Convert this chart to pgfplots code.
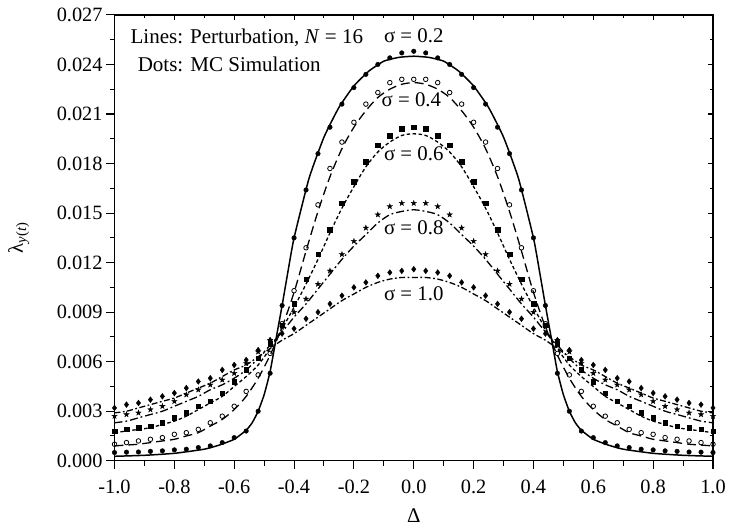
\documentclass[border=0pt]{standalone}
\usepackage{fontspec}
\setmainfont{Liberation Serif}
\usepackage{pgfplots}
\pgfplotsset{compat=1.18}
\usepackage{pgfplotstable}

\pgfdeclareplotmark{fstar}{%
  \pgfpathmoveto{\pgfpointpolar{90}{\pgfplotmarksize}}%
  \pgfpathlineto{\pgfpointpolar{234}{\pgfplotmarksize}}%
  \pgfpathlineto{\pgfpointpolar{18}{\pgfplotmarksize}}%
  \pgfpathlineto{\pgfpointpolar{162}{\pgfplotmarksize}}%
  \pgfpathlineto{\pgfpointpolar{306}{\pgfplotmarksize}}%
  \pgfpathclose
  \pgfusepathqfillstroke
}

\pgfplotstableread{
x      d2      d4     l4      d6     l6     d8     l8     d10    l10
-1.00  0.0005  0.0010 0.0009  0.0018 0.0017 0.0027 0.0023 0.0032 0.0029
-0.96  0.00052 0.0011 0.00095 0.0019 0.0018 0.0028 0.0024 0.0034 0.0030
-0.92  0.00053 0.0012 0.0010  0.0020 0.0019 0.0029 0.0026 0.0035 0.0032
-0.88  0.00057 0.0013 0.0011  0.0021 0.0020 0.0031 0.0028 0.0037 0.0034
-0.84  0.0006  0.0014 0.0012  0.0023 0.0022 0.0033 0.0030 0.0039 0.0036
-0.80  0.00066 0.0016 0.0013  0.0026 0.0024 0.0036 0.0033 0.0041 0.0038
-0.76  0.0007  0.0017 0.0015  0.0029 0.0027 0.0040 0.0036 0.0044 0.0041
-0.72  0.0008  0.0019 0.0017  0.0033 0.0031 0.0043 0.0039 0.0048 0.0044
-0.68  0.0009  0.0023 0.0021  0.0036 0.0035 0.0046 0.0043 0.0050 0.0047
-0.64  0.0011  0.0027 0.0025  0.0041 0.0039 0.0049 0.0046 0.0055 0.0051
-0.60  0.0014  0.0033 0.0031  0.0048 0.0045 0.0053 0.0050 0.0058 0.0055
-0.56  0.0018  0.0042 0.0039  0.0055 0.0051 0.0059 0.0055 0.0061 0.0058
-0.52  0.0030  0.0052 0.0050  0.0062 0.0058 0.0066 0.0062 0.0067 0.0063
-0.48  0.0053  0.0065 0.0064  0.0071 0.0068 0.0073 0.0070 0.0073 0.0068
-0.44  0.0094  0.0083 0.0081  0.0082 0.0080 0.0081 0.0078 0.0077 0.0073
-0.40  0.0135  0.0103 0.0102  0.0095 0.0093 0.0090 0.0087 0.0080 0.0077
-0.36  0.0164  0.0129 0.0127  0.0110 0.0107 0.0098 0.0095 0.0086 0.0082
-0.32  0.0186  0.0155 0.0151  0.0125 0.0122 0.0107 0.0104 0.0090 0.0087
-0.28  0.0202  0.0177 0.0172  0.0140 0.0138 0.0115 0.0113 0.0095 0.0092
-0.24  0.0216  0.0193 0.0189  0.0156 0.0153 0.0125 0.0122 0.0100 0.0097
-0.20  0.0226  0.0205 0.0202  0.0169 0.0166 0.0133 0.0130 0.0105 0.0101
-0.16  0.0234  0.0216 0.0212  0.0181 0.0178 0.0141 0.0137 0.0108 0.0105
-0.12  0.0240  0.0223 0.0220  0.0191 0.0187 0.0149 0.0144 0.0112 0.0108
-0.08  0.0244  0.0229 0.0225  0.0197 0.0193 0.0154 0.0149 0.0114 0.0110
-0.04  0.0247  0.0231 0.0228  0.0201 0.0197 0.0156 0.0151 0.0115 0.0111
 0.00  0.0248  0.0231 0.0229  0.0202 0.0198 0.0156 0.0152 0.0116 0.0111
 0.04  0.0247  0.0231 0.0228  0.0201 0.0197 0.0156 0.0151 0.0115 0.0111
 0.08  0.0244  0.0229 0.0225  0.0197 0.0193 0.0154 0.0149 0.0114 0.0110
 0.12  0.0240  0.0223 0.0220  0.0191 0.0187 0.0149 0.0144 0.0112 0.0108
 0.16  0.0234  0.0216 0.0212  0.0181 0.0178 0.0141 0.0137 0.0108 0.0105
 0.20  0.0226  0.0205 0.0202  0.0169 0.0166 0.0133 0.0130 0.0105 0.0101
 0.24  0.0216  0.0193 0.0189  0.0156 0.0153 0.0125 0.0122 0.0100 0.0097
 0.28  0.0202  0.0177 0.0172  0.0140 0.0138 0.0115 0.0113 0.0095 0.0092
 0.32  0.0186  0.0155 0.0151  0.0125 0.0122 0.0107 0.0104 0.0090 0.0087
 0.36  0.0164  0.0129 0.0127  0.0110 0.0107 0.0098 0.0095 0.0086 0.0082
 0.40  0.0135  0.0103 0.0102  0.0095 0.0093 0.0090 0.0087 0.0080 0.0077
 0.44  0.0094  0.0083 0.0081  0.0082 0.0080 0.0081 0.0078 0.0077 0.0073
 0.48  0.0053  0.0065 0.0064  0.0071 0.0068 0.0073 0.0070 0.0073 0.0068
 0.52  0.0030  0.0052 0.0050  0.0062 0.0058 0.0066 0.0062 0.0067 0.0063
 0.56  0.0018  0.0042 0.0039  0.0055 0.0051 0.0059 0.0055 0.0061 0.0058
 0.60  0.0014  0.0033 0.0031  0.0048 0.0045 0.0053 0.0050 0.0058 0.0055
 0.64  0.0011  0.0027 0.0025  0.0041 0.0039 0.0049 0.0046 0.0055 0.0051
 0.68  0.0009  0.0023 0.0021  0.0036 0.0035 0.0046 0.0043 0.0050 0.0047
 0.72  0.0008  0.0019 0.0017  0.0033 0.0031 0.0043 0.0039 0.0048 0.0044
 0.76  0.0007  0.0017 0.0015  0.0029 0.0027 0.0040 0.0036 0.0044 0.0041
 0.80  0.00066 0.0016 0.0013  0.0026 0.0024 0.0036 0.0033 0.0041 0.0038
 0.84  0.0006  0.0014 0.0012  0.0023 0.0022 0.0033 0.0030 0.0039 0.0036
 0.88  0.00057 0.0013 0.0011  0.0021 0.0020 0.0031 0.0028 0.0037 0.0034
 0.92  0.00053 0.0012 0.0010  0.0020 0.0019 0.0029 0.0026 0.0035 0.0032
 0.96  0.00052 0.0011 0.00095 0.0019 0.0018 0.0028 0.0024 0.0034 0.0030
 1.00  0.0005  0.0010 0.0009  0.0018 0.0017 0.0027 0.0023 0.0032 0.0029
}\datatab

\pgfplotstableread{
x      l2
-1.00  0.00027
-0.90  0.00033
-0.80  0.00045
-0.70  0.0007
-0.65  0.00095
-0.60  0.0013
-0.56  0.00185
-0.54  0.0023
-0.52  0.0030
-0.50  0.0040
-0.48  0.0054
-0.46  0.0074
-0.44  0.0094
-0.42  0.0115
-0.40  0.0135
-0.35  0.0171
-0.30  0.0196
-0.25  0.0214
-0.20  0.0227
-0.15  0.0236
-0.10  0.0242
-0.05  0.02443
 0.00  0.0245
 0.05  0.02443
 0.10  0.0242
 0.15  0.0236
 0.20  0.0227
 0.25  0.0214
 0.30  0.0196
 0.35  0.0171
 0.40  0.0135
 0.42  0.0115
 0.44  0.0094
 0.46  0.0074
 0.48  0.0054
 0.50  0.0040
 0.52  0.0030
 0.54  0.0023
 0.56  0.00185
 0.60  0.0013
 0.65  0.00095
 0.70  0.0007
 0.80  0.00045
 0.90  0.00033
 1.00  0.00027
}\lineA

\begin{document}
\begin{tikzpicture}
\pgfplotsset{
  base/.style={
    scale only axis, width=601bp, height=447.7bp,
    xmin=-1, xmax=1, ymin=0, ymax=0.027,
    xtick={-1,-0.8,-0.6,-0.4,-0.2,0,0.2,0.4,0.6,0.8,1},
    ytick={0,0.003,0.006,0.009,0.012,0.015,0.018,0.021,0.024,0.027},
    minor x tick num=1, minor y tick num=1,
    major tick length=8.5bp, minor tick length=5bp,
    every tick/.style={black, line width=1.1bp},
    every minor tick/.style={black, line width=1bp},
    axis line style={line width=1.2bp},
    scaled y ticks=false,
  }
}
\begin{axis}[base,
    tick align=inside, xtick pos=right, ytick pos=right,
    xticklabels={}, yticklabels={},
    major tick length=5bp, minor tick length=3bp]
\end{axis}
\begin{axis}[base,
    tick align=outside, xtick pos=left, ytick pos=left,
    /pgf/number format/assume math mode=true,
    ticklabel style={font=\fontsize{20.5}{23}\selectfont},
    yticklabel style={/pgf/number format/fixed, /pgf/number format/fixed zerofill, /pgf/number format/precision=3},
    xticklabel style={/pgf/number format/fixed, /pgf/number format/fixed zerofill, /pgf/number format/precision=1, yshift=-7bp},
    xlabel={Δ}, ylabel={λ\textsubscript{\itshape y\/\upshape(\itshape t\/\upshape)}},
    label style={font=\fontsize{21}{24}\selectfont},
    xlabel style={at={(axis description cs:0.5,-0.1235)}, anchor=center},
    ylabel style={at={(axis description cs:-0.160,0.5)}, anchor=center},
    clip=true]

\addplot[black, line width=1.5bp, smooth, tension=0.3] table[x=x,y=l2] {\lineA};
\addplot[black, only marks, mark=*, mark size=2.3bp] table[x=x,y=d2] {\datatab};

\addplot[black, line width=1.3bp, smooth, dash pattern=on 9bp off 5bp] table[x=x,y=l4] {\datatab};
\addplot[black, only marks, mark=o, mark size=2.3bp, mark options={line width=0.8bp}] table[x=x,y=d4] {\datatab};

\addplot[black, line width=1.3bp, smooth, dash pattern=on 3.5bp off 2.5bp] table[x=x,y=l6] {\datatab};
\addplot[black, only marks, mark=square*, mark size=2.3bp] table[x=x,y=d6] {\datatab};

\addplot[black, line width=1.3bp, smooth, dash pattern=on 8bp off 3bp on 1.8bp off 3bp] table[x=x,y=l8] {\datatab};
\addplot[black, only marks, mark=fstar, mark size=2.9bp, mark options={line width=0.3bp}] table[x=x,y=d8] {\datatab};

\addplot[black, line width=1.3bp, smooth, dash pattern=on 6bp off 2.5bp on 1.8bp off 2.5bp] table[x=x,y=l10] {\datatab};
\addplot[black, only marks, mark=diamond*, mark size=2.9bp] table[x=x,y=d10] {\datatab};

\node[font=\fontsize{21}{24}\selectfont, inner sep=1bp] at (axis cs:0.0,0.02573) {σ = 0.2};
\node[font=\fontsize{21}{24}\selectfont, inner sep=1bp] at (axis cs:-0.008,0.02186) {σ = 0.4};
\node[font=\fontsize{21}{24}\selectfont, inner sep=1bp] at (axis cs:0.0,0.01859) {σ = 0.6};
\node[font=\fontsize{21}{24}\selectfont, inner sep=1bp] at (axis cs:0.0,0.0141) {σ = 0.8};
\node[font=\fontsize{21}{24}\selectfont, inner sep=1bp] at (axis cs:0.0,0.01014) {σ = 1.0};
\node[font=\fontsize{21.2}{24}\selectfont, anchor=west, inner sep=0pt] at (axis cs:-0.947,0.02561) {Lines: Perturbation, \textit{N} = 16};
\node[font=\fontsize{21.2}{24}\selectfont, anchor=west, inner sep=0pt] at (axis cs:-0.923,0.02399) {Dots: MC Simulation};
\end{axis}
\path[use as bounding box] (current axis.south west) ++(-115bp,-65.3bp) rectangle ++(729bp,528bp);
\end{tikzpicture}
\end{document}
